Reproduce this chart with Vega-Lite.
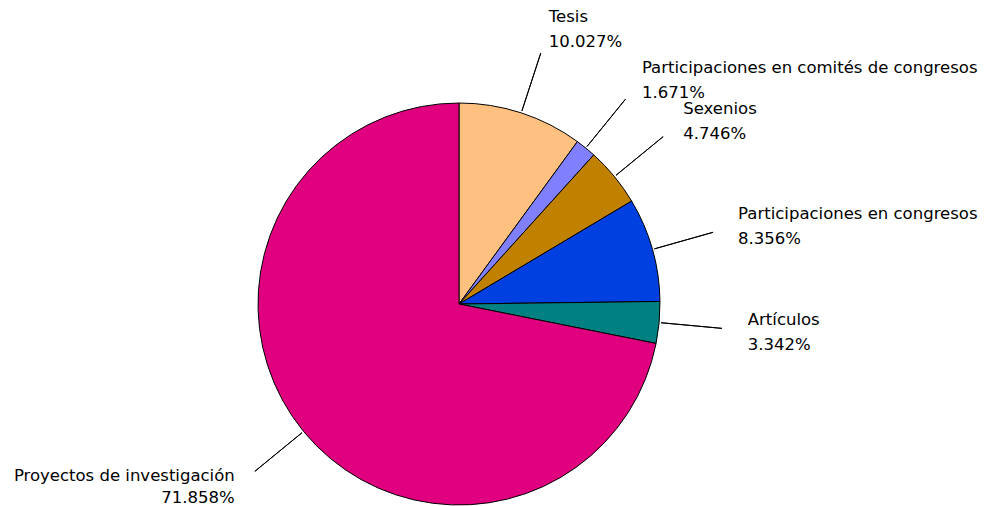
{
  "$schema": "https://vega.github.io/schema/vega-lite/v6.json",
  "width": 918,
  "height": 404,
  "autosize": "none",
  "padding": {"left": 0, "top": 102, "right": 73, "bottom": 0},
  "background": "white",
  "config": {"view": {"stroke": null}, "font": "DejaVu Sans"},
  "data": {
    "values": [
      {"category": "Tesis", "value": 0.10027},
      {"category": "Participaciones en comités de congresos", "value": 0.01671},
      {"category": "Sexenios", "value": 0.04746},
      {"category": "Participaciones en congresos", "value": 0.08356},
      {"category": "Artículos", "value": 0.03342},
      {"category": "Proyectos de investigación", "value": 0.71858}
    ]
  },
  "transform": [{"window": [{"op": "row_number", "as": "rank"}]}],
  "layer": [
    {
      "mark": {"type": "arc", "radius": 201, "stroke": "black", "strokeWidth": 1},
      "encoding": {
        "theta": {"field": "value", "type": "quantitative", "stack": true, "scale": {"domain": [0, 1]}},
        "order": {"field": "rank", "type": "quantitative"},
        "color": {
          "field": "category",
          "type": "nominal",
          "scale": {
            "domain": ["Tesis", "Participaciones en comités de congresos", "Sexenios", "Participaciones en congresos", "Artículos", "Proyectos de investigación"],
            "range": ["#FFC080", "#8080FF", "#C08000", "#0040E0", "#008080", "#E0007F"]
          },
          "legend": null
        }
      }
    },
    {
      "transform": [
        {"stack": "value", "groupby": [], "sort": [{"field": "rank", "order": "ascending"}], "as": ["start", "end"]},
        {"fold": ["start", "end"], "as": ["edge", "pos"]},
        {"aggregate": [{"op": "mean", "field": "pos", "as": "mid"}], "groupby": ["category", "value"]}
      ],
      "layer": [
        {
          "mark": {"type": "arc", "radius": 264, "radius2": 203, "stroke": "black", "strokeWidth": 1, "fill": null},
          "encoding": {
            "theta": {"field": "mid", "type": "quantitative", "scale": {"domain": [0, 1]}},
            "theta2": {"field": "mid"}
          }
        },
        {
          "transform": [{"filter": {"field": "mid", "lt": 0.5}}],
          "layer": [
            {
              "mark": {"type": "text", "radius": 290, "align": "left", "baseline": "middle", "dy": -11, "fontSize": 16.5, "fill": "black"},
              "encoding": {
                "theta": {"field": "mid", "type": "quantitative", "scale": {"domain": [0, 1]}},
                "text": {"field": "category", "type": "nominal"}
              }
            },
            {
              "mark": {"type": "text", "radius": 290, "align": "left", "baseline": "middle", "dy": 14, "fontSize": 16.5, "fill": "black"},
              "encoding": {
                "theta": {"field": "mid", "type": "quantitative", "scale": {"domain": [0, 1]}},
                "text": {"field": "value", "type": "quantitative", "format": ".3%"}
              }
            }
          ]
        },
        {
          "transform": [{"filter": {"field": "mid", "gte": 0.5}}],
          "layer": [
            {
              "mark": {"type": "text", "radius": 290, "align": "right", "baseline": "middle", "dy": -12, "fontSize": 16.5, "fill": "black"},
              "encoding": {
                "theta": {"field": "mid", "type": "quantitative", "scale": {"domain": [0, 1]}},
                "text": {"field": "category", "type": "nominal"}
              }
            },
            {
              "mark": {"type": "text", "radius": 290, "align": "right", "baseline": "middle", "dy": 10, "fontSize": 16.5, "fill": "black"},
              "encoding": {
                "theta": {"field": "mid", "type": "quantitative", "scale": {"domain": [0, 1]}},
                "text": {"field": "value", "type": "quantitative", "format": ".3%"}
              }
            }
          ]
        }
      ]
    }
  ]
}
